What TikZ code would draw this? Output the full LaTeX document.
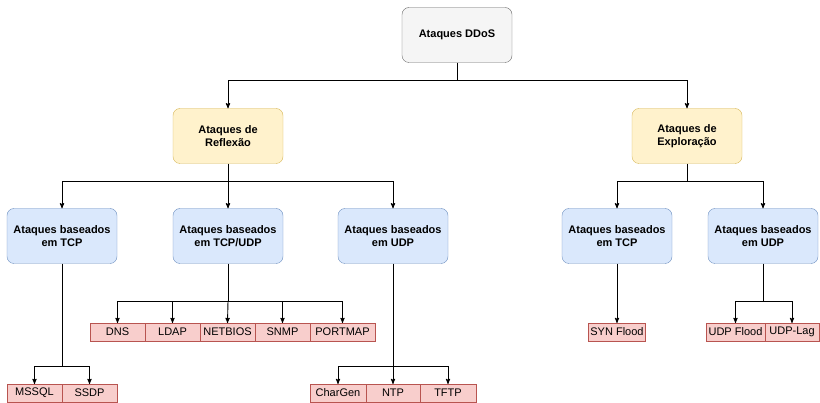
\documentclass[tikz,border=0pt]{standalone}
\usepackage{fontspec}
\setmainfont{Liberation Sans}
\usetikzlibrary{arrows}
\usetikzlibrary{positioning}
\definecolor{greyfill}{HTML}{F5F5F5}
\definecolor{greyline}{HTML}{666666}
\definecolor{yellowfill}{HTML}{FFF2CC}
\definecolor{yellowline}{HTML}{D6B656}
\definecolor{bluefill}{HTML}{DAE8FC}
\definecolor{blueline}{HTML}{6C8EBF}
\definecolor{redfill}{HTML}{F8CECC}
\definecolor{redline}{HTML}{B85450}
\tikzset{
  x = 1pt, y = -1pt, > = stealth',
  box/.style = {draw, rounded corners = 7pt, minimum width = 110pt, minimum height = 55pt,
                align = center, font = \fontsize{11}{13}\selectfont\bfseries, inner sep = 2pt},
  rootbox/.style = {box, fill = greyfill, draw = greyline},
  classbox/.style = {box, fill = yellowfill, draw = yellowline},
  protobox/.style = {box, fill = bluefill, draw = blueline},
  leaf/.style = {draw = redline, fill = redfill, minimum height = 18pt, minimum width = 55pt,
                 inner sep = 0pt, outer sep = 0pt, font = \fontsize{11}{13}\selectfont},
  link/.style = {->, line width = 0.9pt}
}

\begin{document}
\begin{tikzpicture}
    \useasboundingbox (0,0) rectangle (820,403);
    % tree levels
    \node [rootbox] (ddos) at (457,35) {Ataques DDoS};
    \node [classbox] (refl) at (228,136) {Ataques de\\Reflexão};
    \node [classbox] (expl) at (687,136) {Ataques de\\Exploração};
    \node [protobox] (rtcp) at (62,236) {Ataques baseados\\em TCP};
    \node [protobox] (rmix) at (228,236) {Ataques baseados\\em TCP/UDP};
    \node [protobox] (rudp) at (393,236) {Ataques baseados\\em UDP};
    \node [protobox] (etcp) at (617,236) {Ataques baseados\\em TCP};
    \node [protobox] (eudp) at (763,236) {Ataques baseados\\em UDP};
    % protocols
    \node [leaf, anchor = north west] (dns) at (90,323) {DNS};
    \node [leaf, right = 0pt of dns] (ldap) {LDAP};
    \node [leaf, right = 0pt of ldap] (netbios) {NETBIOS};
    \node [leaf, right = 0pt of netbios] (snmp) {SNMP};
    \node [leaf, right = 0pt of snmp, minimum width = 65pt] (portmap) {PORTMAP};
    \node [leaf, anchor = north west] (mssql) at (7,384) {MSSQL};
    \node [leaf, right = 0pt of mssql] (ssdp) {SSDP};
    \node [leaf, anchor = north west, minimum width = 56pt] (chargen) at (310,384) {CharGen};
    \node [leaf, right = 0pt of chargen, minimum width = 54pt] (ntp) {NTP};
    \node [leaf, right = 0pt of ntp, minimum width = 56pt] (tftp) {TFTP};
    \node [leaf, anchor = north, minimum width = 57pt] (syn) at (617,323) {SYN Flood};
    \node [leaf, anchor = north west, minimum width = 59pt] (udpflood) at (706,323) {UDP Flood};
    \node [leaf, right = 0pt of udpflood, minimum width = 54pt] (udplag) {UDP-Lag};
    % bus points
    \coordinate (b0) at (457,80);
    \coordinate (b1) at (228,181);
    \coordinate (b2) at (687,181);
    \coordinate (b3) at (228,301);
    \coordinate (b4) at (62,366);
    \coordinate (b5) at (393,366);
    \coordinate (b6) at (763,301);
    % paths
    \draw [link] (ddos.south) -- (b0) -| (refl.north);
    \draw [link] (b0) -| (expl.north);
    \draw [link] (refl.south) -- (b1) -| (rtcp.north);
    \draw [link] (b1) -- (rmix.north);
    \draw [link] (b1) -| (rudp.north);
    \draw [link] (expl.south) -- (b2) -| (etcp.north);
    \draw [link] (b2) -| (eudp.north);
    \draw [link] (rmix.south) -- (b3) -| (dns.north);
    \draw [link] (b3) -| (ldap.north);
    \draw [link] (b3) -- (netbios.north);
    \draw [link] (b3) -| (snmp.north);
    \draw [link] (b3) -| (portmap.north);
    \draw [link] (rtcp.south) -- (b4) -| (mssql.north);
    \draw [link] (b4) -| (ssdp.north);
    \draw [link] (rudp.south) -- (b5) -| (chargen.north);
    \draw [link] (b5) -- (ntp.north);
    \draw [link] (b5) -| (tftp.north);
    \draw [link] (etcp.south) -- (syn.north);
    \draw [link] (eudp.south) -- (b6) -| (udpflood.north);
    \draw [link] (b6) -| (udplag.north);
\end{tikzpicture}
\end{document}
